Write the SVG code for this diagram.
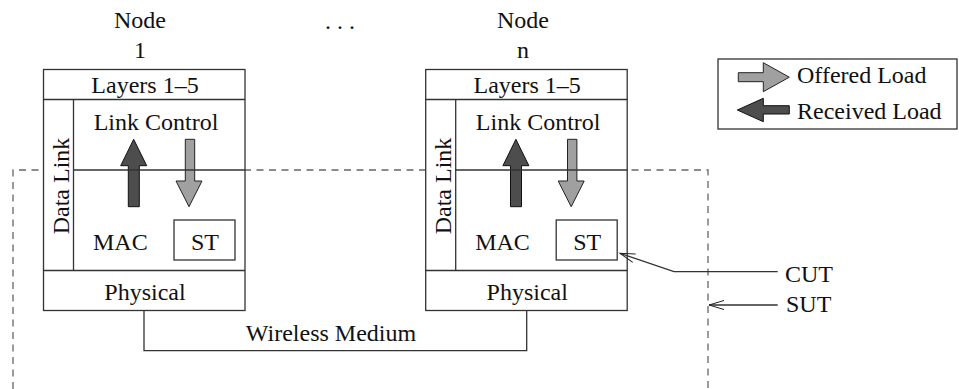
<svg xmlns="http://www.w3.org/2000/svg" width="959" height="389" viewBox="0 0 959 389">
<style>
text{font-family:"Liberation Serif","Times New Roman",serif;font-size:24px;fill:#111}
.box{fill:#fff;stroke:#333;stroke-width:1.3}
.ln{fill:none;stroke:#333;stroke-width:1.3}
.dash{fill:none;stroke:#666;stroke-width:1.3;stroke-dasharray:7 5.5}
.dark{fill:#4d4d4d;stroke:#111;stroke-width:1}
.light{fill:#a0a0a0;stroke:#222;stroke-width:1}
.mid{text-anchor:middle}
</style>
<defs>
<marker id="open" markerUnits="userSpaceOnUse" markerWidth="20" markerHeight="12" viewBox="-16 -6 18 12" refX="0" refY="0" orient="auto">
<path d="M-15,-4.5 L0,0 L-15,4.5" fill="none" stroke="#222" stroke-width="1"/>
</marker>
<g id="nodebody">
<rect class="box" x="43.5" y="69.5" width="201.5" height="241"/>
<line class="ln" x1="43.5" y1="99.5" x2="245" y2="99.5"/>
<line class="ln" x1="43.5" y1="270.5" x2="245" y2="270.5"/>
<line class="ln" x1="73.5" y1="99.5" x2="73.5" y2="270.5"/>
<rect class="box" x="174" y="220" width="61" height="40"/>
<path class="dark" d="M128.3,206.7 V165.7 H120.7 L133.7,139.3 L146.7,165.7 H139.3 V206.7 Z"/>
<path class="light" d="M185.3,139.3 H194.7 V181 H202 L189,206.7 L176,181 H185.3 Z"/>
<text class="mid" x="145" y="93">Layers 1–5</text>
<text class="mid" x="156" y="130">Link Control</text>
<text x="93" y="250">MAC</text>
<text class="mid" x="205" y="250">ST</text>
<text class="mid" x="145" y="300">Physical</text>
<text class="mid" transform="translate(68.5,186) rotate(-90)">Data Link</text>
</g>
</defs>
<g id="sut-boundary">
<path class="dash" d="M13,389 V170 H708 V389"/>
</g>
<g id="node1">
<text class="mid" x="140" y="28">Node</text>
<text class="mid" x="140" y="58">1</text>
<use href="#nodebody"/>
<line class="ln" x1="73.5" y1="170" x2="245" y2="170"/>
</g>
<g id="ellipsis">
<text class="mid" x="340" y="29">. . .</text>
</g>
<g id="noden">
<text class="mid" x="523" y="28">Node</text>
<text class="mid" x="523" y="58">n</text>
<use href="#nodebody" transform="translate(382.2,0)"/>
<line class="ln" x1="455.7" y1="170" x2="627.2" y2="170"/>
</g>
<g id="legend">
<rect class="box" x="718" y="59" width="239" height="70"/>
<path class="light" d="M738.3,72.7 H763.3 V62.7 L789.3,77.2 L763.3,91.7 V81.7 H738.3 Z"/>
<path class="dark" d="M789.3,105.7 H763.3 V98.3 L737.3,110 L763.3,121.7 V114 H789.3 Z"/>
<text x="797" y="83">Offered Load</text>
<text x="797" y="119">Received Load</text>
</g>
<g id="connectors">
<path class="ln" d="M144,310.5 V350.7 H526.7 V310.5"/>
<text class="mid" x="331" y="341">Wireless Medium</text>
<polyline class="ln" points="777.7,271.7 674,271.7 620,253.3" stroke-width="1.1" marker-end="url(#open)"/>
<line class="ln" x1="777.7" y1="305" x2="709" y2="305" stroke-width="1.1" marker-end="url(#open)"/>
</g>
<g id="labels">
<text x="785" y="282">CUT</text>
<text x="786" y="312">SUT</text>
</g>
</svg>
